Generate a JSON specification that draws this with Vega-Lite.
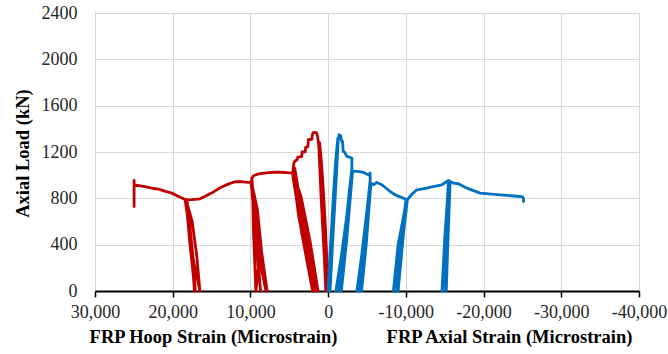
{
  "$schema": "https://vega.github.io/schema/vega-lite/v6.json",
  "autosize": "none",
  "width": 544,
  "height": 278,
  "padding": {"left": 95, "top": 13, "right": 29, "bottom": 63},
  "background": "white",
  "config": {
    "view": {"stroke": "#a0a0a0", "strokeWidth": 1},
    "axis": {"labelFont": "Liberation Serif", "titleFont": "Liberation Serif", "labelFontSize": 18, "titleFontSize": 18.5, "titleFontWeight": "bold", "titleColor": "#000000", "labelColor": "#262626", "gridColor": "#d9d9d9", "gridWidth": 1, "labelOverlap": false, "labelFlush": false, "labelBound": false}
  },
  "datasets": {
    "hoop": [
      {"i":0,"strain":0,"load":0},{"i":1,"strain":150,"load":250},{"i":2,"strain":350,"load":550},{"i":3,"strain":600,"load":850},{"i":4,"strain":850,"load":1100},{"i":5,"strain":1100,"load":1280},
      {"i":6,"strain":700,"load":700},{"i":7,"strain":300,"load":0},{"i":8,"strain":500,"load":300},{"i":9,"strain":900,"load":800},{"i":10,"strain":1200,"load":1250},
      {"i":11,"strain":1350,"load":1330},{"i":12,"strain":1500,"load":1367},{"i":13,"strain":1800,"load":1367},{"i":14,"strain":1950,"load":1367},{"i":15,"strain":2050,"load":1340},{"i":16,"strain":2100,"load":1310},{"i":17,"strain":2550,"load":1306},{"i":18,"strain":2600,"load":1245},{"i":19,"strain":2900,"load":1240},{"i":20,"strain":2950,"load":1202},{"i":21,"strain":3350,"load":1200},{"i":22,"strain":3400,"load":1160},{"i":23,"strain":3900,"load":1155},{"i":24,"strain":4000,"load":1133},{"i":25,"strain":4300,"load":1120},{"i":26,"strain":4400,"load":1107},{"i":27,"strain":4500,"load":1050},{"i":28,"strain":4550,"load":1000},
      {"i":29,"strain":3400,"load":500},{"i":30,"strain":2000,"load":0},{"i":31,"strain":2700,"load":300},{"i":32,"strain":3600,"load":650},{"i":33,"strain":4450,"load":1010},{"i":34,"strain":3200,"load":450},{"i":35,"strain":1500,"load":0},{"i":36,"strain":2400,"load":350},{"i":37,"strain":3500,"load":700},{"i":38,"strain":4500,"load":1030},{"i":39,"strain":3800,"load":650},{"i":40,"strain":2600,"load":250},{"i":41,"strain":1800,"load":0},{"i":42,"strain":2900,"load":400},{"i":43,"strain":4300,"load":1060},
      {"i":44,"strain":2900,"load":500},{"i":45,"strain":1300,"load":0},{"i":46,"strain":2300,"load":420},{"i":47,"strain":3500,"load":820},{"i":48,"strain":4600,"load":1020},
      {"i":49,"strain":5000,"load":1020},{"i":50,"strain":6000,"load":1025},{"i":51,"strain":7000,"load":1025},{"i":52,"strain":8000,"load":1020},{"i":53,"strain":9000,"load":1010},{"i":54,"strain":9600,"load":995},{"i":55,"strain":9800,"load":975},
      {"i":56,"strain":9400,"load":500},{"i":57,"strain":8700,"load":0},{"i":58,"strain":9200,"load":420},{"i":59,"strain":9850,"load":960},{"i":60,"strain":9300,"load":420},{"i":61,"strain":8000,"load":0},{"i":62,"strain":8500,"load":300},{"i":63,"strain":9100,"load":700},{"i":64,"strain":9900,"load":950},{"i":65,"strain":9500,"load":600},{"i":66,"strain":9000,"load":200},{"i":67,"strain":9300,"load":0},{"i":68,"strain":9600,"load":500},{"i":69,"strain":9700,"load":800},{"i":70,"strain":9200,"load":500},{"i":71,"strain":7850,"load":0},{"i":72,"strain":8800,"load":450},{"i":73,"strain":9950,"load":940},
      {"i":74,"strain":10300,"load":938},{"i":75,"strain":11000,"load":943},{"i":76,"strain":12000,"load":943},{"i":77,"strain":12800,"load":925},{"i":78,"strain":13900,"load":891},{"i":79,"strain":15000,"load":845},{"i":80,"strain":16470,"load":796},{"i":81,"strain":17500,"load":789},{"i":82,"strain":18150,"load":787},
      {"i":83,"strain":17700,"load":400},{"i":84,"strain":17100,"load":0},{"i":85,"strain":17400,"load":300},{"i":86,"strain":18000,"load":700},{"i":87,"strain":18250,"load":785},{"i":88,"strain":17600,"load":350},{"i":89,"strain":16500,"load":0},{"i":90,"strain":16900,"load":300},{"i":91,"strain":17500,"load":600},{"i":92,"strain":18300,"load":790},{"i":93,"strain":17800,"load":420},{"i":94,"strain":17300,"load":100},{"i":95,"strain":17200,"load":0},{"i":96,"strain":17700,"load":450},{"i":97,"strain":18400,"load":790},
      {"i":98,"strain":19050,"load":810},{"i":99,"strain":20120,"load":845},{"i":100,"strain":21000,"load":862},{"i":101,"strain":21840,"load":880},{"i":102,"strain":22500,"load":885},{"i":103,"strain":23550,"load":902},{"i":104,"strain":24970,"load":917},
      {"i":105,"strain":24970,"load":729},{"i":106,"strain":24970,"load":954}
    ],
    "axial": [
      {"i":0,"strain":0,"load":0},{"i":1,"strain":-150,"load":200},{"i":2,"strain":-400,"load":500},{"i":3,"strain":-700,"load":850},{"i":4,"strain":-1000,"load":1150},{"i":5,"strain":-1250,"load":1320},
      {"i":6,"strain":-800,"load":700},{"i":7,"strain":-250,"load":0},{"i":8,"strain":-500,"load":350},{"i":9,"strain":-900,"load":800},{"i":10,"strain":-1300,"load":1300},
      {"i":11,"strain":-1416,"load":1350},{"i":12,"strain":-1600,"load":1340},{"i":13,"strain":-1763,"load":1291},{"i":14,"strain":-1850,"load":1291},{"i":15,"strain":-1930,"load":1205},{"i":16,"strain":-2100,"load":1200},{"i":17,"strain":-2407,"load":1162},{"i":18,"strain":-3050,"load":1148},{"i":19,"strain":-3050,"load":1047},
      {"i":20,"strain":-2300,"load":550},{"i":21,"strain":-1400,"load":0},{"i":22,"strain":-2000,"load":400},{"i":23,"strain":-3000,"load":1030},{"i":24,"strain":-2200,"load":500},{"i":25,"strain":-1000,"load":0},{"i":26,"strain":-1700,"load":300},{"i":27,"strain":-2500,"load":700},{"i":28,"strain":-3100,"load":1040},{"i":29,"strain":-2500,"load":600},{"i":30,"strain":-1800,"load":100},{"i":31,"strain":-1700,"load":0},{"i":32,"strain":-2400,"load":450},{"i":33,"strain":-3150,"load":1040},
      {"i":34,"strain":-3218,"load":1032},{"i":35,"strain":-3861,"load":1032},{"i":36,"strain":-4500,"load":1025},{"i":37,"strain":-5148,"load":1003},{"i":38,"strain":-5300,"load":1010},{"i":39,"strain":-5405,"load":1018},{"i":40,"strain":-5405,"load":934},
      {"i":41,"strain":-4800,"load":500},{"i":42,"strain":-4000,"load":0},{"i":43,"strain":-4600,"load":400},{"i":44,"strain":-5400,"load":950},{"i":45,"strain":-4700,"load":500},{"i":46,"strain":-3700,"load":0},{"i":47,"strain":-4300,"load":300},{"i":48,"strain":-5000,"load":700},{"i":49,"strain":-5450,"load":930},{"i":50,"strain":-4900,"load":550},{"i":51,"strain":-4400,"load":150},{"i":52,"strain":-4300,"load":0},{"i":53,"strain":-4900,"load":400},{"i":54,"strain":-5500,"load":930},
      {"i":55,"strain":-5830,"load":917},{"i":56,"strain":-6268,"load":937},{"i":57,"strain":-6911,"load":917},{"i":58,"strain":-7979,"load":859},{"i":59,"strain":-8623,"load":830},{"i":60,"strain":-9653,"load":802},{"i":61,"strain":-10129,"load":787},
      {"i":62,"strain":-9500,"load":400},{"i":63,"strain":-8800,"load":0},{"i":64,"strain":-9300,"load":350},{"i":65,"strain":-10000,"load":780},{"i":66,"strain":-9200,"load":350},{"i":67,"strain":-8400,"load":0},{"i":68,"strain":-9000,"load":400},{"i":69,"strain":-10100,"load":785},{"i":70,"strain":-9600,"load":450},{"i":71,"strain":-9000,"load":0},{"i":72,"strain":-9700,"load":500},{"i":73,"strain":-10200,"load":790},
      {"i":74,"strain":-10700,"load":830},{"i":75,"strain":-11416,"load":874},{"i":76,"strain":-12703,"load":888},{"i":77,"strain":-13514,"load":902},{"i":78,"strain":-14633,"load":917},{"i":79,"strain":-15483,"load":954},
      {"i":80,"strain":-15100,"load":500},{"i":81,"strain":-14800,"load":0},{"i":82,"strain":-15100,"load":350},{"i":83,"strain":-15500,"load":940},{"i":84,"strain":-15000,"load":450},{"i":85,"strain":-14650,"load":0},{"i":86,"strain":-15000,"load":300},{"i":87,"strain":-15450,"load":800},{"i":88,"strain":-15600,"load":950},{"i":89,"strain":-15200,"load":500},{"i":90,"strain":-15200,"load":0},{"i":91,"strain":-15400,"load":400},{"i":92,"strain":-15700,"load":945},
      {"i":93,"strain":-16088,"load":932},{"i":94,"strain":-16770,"load":926},{"i":95,"strain":-17851,"load":888},{"i":96,"strain":-19562,"load":845},{"i":97,"strain":-22136,"load":830},{"i":98,"strain":-24710,"load":816},{"i":99,"strain":-25000,"load":812},{"i":100,"strain":-25135,"load":800},{"i":101,"strain":-25135,"load":772}
    ]
  },
  "layer": [
    {
      "data": {"name": "hoop"},
      "mark": {"type": "line", "color": "#C00000", "strokeWidth": 2.8, "strokeJoin": "round", "strokeCap": "round"},
      "encoding": {
        "order": {"field": "i", "type": "quantitative"},
        "x": {"field": "strain", "type": "quantitative",
          "scale": {"domain": [-40000, 30000], "reverse": true, "nice": false, "zero": false},
          "axis": {"orient": "bottom", "values": [30000, 20000, 10000, 0, -10000, -20000, -30000, -40000],
            "labelExpr": "datum.value > 0 ? format(datum.value, ',') : (datum.value < 0 ? '-' + format(-datum.value, ',') : '0')",
            "labelFlush": false, "labelOverlap": false,
            "grid": true, "domain": true, "domainColor": "#000000", "domainWidth": 2,
            "ticks": true, "tickColor": "#000000", "tickSize": 6, "tickWidth": 1.5, "labelPadding": 6,
            "title": "FRP Hoop Strain (Microstrain)", "titleX": 118, "titleY": 51, "titleAlign": "center", "titleBaseline": "alphabetic"}
        },
        "y": {"field": "load", "type": "quantitative",
          "scale": {"domain": [0, 2400], "nice": false},
          "axis": {"orient": "left", "values": [0, 400, 800, 1200, 1600, 2000, 2400], "format": "d",
            "grid": true, "domain": false, "ticks": false, "labelPadding": 18,
            "title": "Axial Load (kN)", "titleX": -67, "titleY": 140, "titleAngle": -90, "titleAlign": "center", "titleBaseline": "alphabetic"}
        }
      }
    },
    {
      "data": {"name": "axial"},
      "mark": {"type": "line", "color": "#0070C0", "strokeWidth": 2.8, "strokeJoin": "round", "strokeCap": "round"},
      "encoding": {
        "order": {"field": "i", "type": "quantitative"},
        "x": {"field": "strain", "type": "quantitative",
          "scale": {"domain": [-40000, 30000], "reverse": true, "nice": false, "zero": false},
          "axis": {"orient": "top", "labels": false, "ticks": false, "domain": false, "grid": false,
            "title": "FRP Axial Strain (Microstrain)", "titleX": 414, "titleY": 329, "titleAlign": "center", "titleBaseline": "alphabetic", "titleAngle": 0}
        },
        "y": {"field": "load", "type": "quantitative",
          "scale": {"domain": [0, 2400], "nice": false},
          "axis": null
        }
      }
    },
    {
      "mark": {"type": "rule", "color": "#000000", "strokeWidth": 2},
      "encoding": {"x": {"datum": 0, "type": "quantitative", "axis": null}}
    }
  ],
  "resolve": {"axis": {"x": "independent", "y": "independent"}}
}
